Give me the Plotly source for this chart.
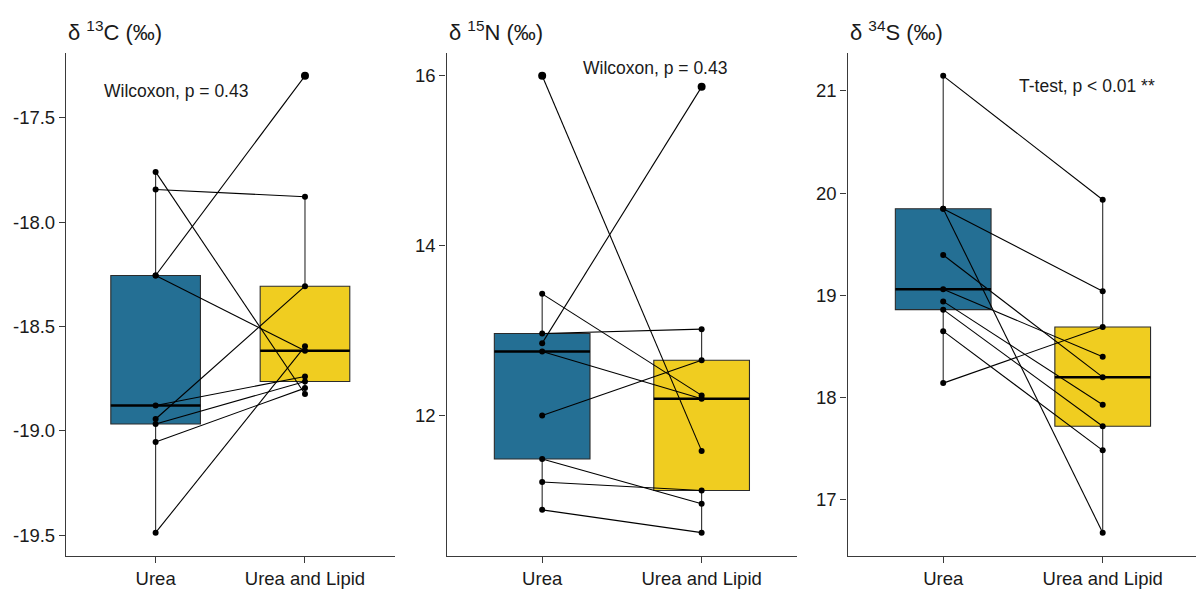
import numpy as np
import plotly.graph_objects as go

groups = ["Urea", "Urea and Lipid"]
colors = ["#246f94", "#f0cd20"]

C_urea = [-17.76, -17.844, -18.256, -18.256, -18.878, -18.943, -18.967, -19.053, -19.487]
C_lipid = [-18.823, -17.879, -17.30, -18.616, -18.739, -18.307, -18.763, -18.795, -18.595]

N_urea = [16.00, 13.43, 12.963, 12.849, 12.750, 11.996, 11.484, 11.212, 10.884]
N_lipid = [11.579, 12.233, 13.014, 15.87, 12.194, 12.647, 10.955, 11.112, 10.615]

S_urea = [21.146, 19.847, 19.847, 19.395, 19.06, 18.941, 18.86, 18.65, 18.142]
S_lipid = [19.935, 19.04, 16.68, 18.20, 18.40, 17.93, 17.72, 17.485, 18.69]

titles = ["δ <sup>13</sup>C (‰)", "δ <sup>15</sup>N (‰)", "δ <sup>34</sup>S (‰)"]
tests = ["Wilcoxon, p = 0.43", "Wilcoxon, p = 0.43", "T-test, p < 0.01 **"]
yticks = [[-19.5, -19.0, -18.5, -18.0, -17.5], [12, 14, 16], [17, 18, 19, 20, 21]]
ydecimals = [1, 0, 0]

panels = [(C_urea, C_lipid), (N_urea, N_lipid), (S_urea, S_lipid)]

W, H = 1196, 592
# layout in pixels
x_dom_px = [(66, 394.6), (446.5, 797.3), (847.5, 1196)]
x_ranges = [[0.4, 2.6], [0.4, 2.6], [0.4, 0.4 + (1196 - 847.5) / 159.5]]
y_top, y_bot = 53, 555.5
label_pos = [(1.136, -17.374), (1.71, 16.09), (1.90, 21.05)]

FONT = "Liberation Sans, Arial, sans-serif"
AX = "#3a3a3a"
TXT = "#1a1a1a"

fig = go.Figure()
layout = dict(
    width=W, height=H, margin=dict(l=0, r=0, t=0, b=0, autoexpand=False),
    plot_bgcolor="white", paper_bgcolor="white", showlegend=False,
    font=dict(family=FONT, color=TXT, size=18),
    annotations=[],
)

for i, (u, l) in enumerate(panels):
    xa = "x" if i == 0 else f"x{i+1}"
    ya = "y" if i == 0 else f"y{i+1}"
    for g, (vals, col) in enumerate(zip((u, l), colors)):
        pos = g + 1
        fig.add_trace(go.Box(
            y=vals, x=[pos] * len(vals), width=0.6, fillcolor=col,
            line=dict(color="#2b2b2b", width=1.1), whiskerwidth=0,
            boxpoints="outliers", quartilemethod="inclusive",
            marker=dict(color="black", size=8, line=dict(width=0)),
            pointpos=0, jitter=0, xaxis=xa, yaxis=ya, hoverinfo="skip"))
        med = float(np.median(vals))
        fig.add_trace(go.Scatter(
            x=[pos - 0.3, pos + 0.3], y=[med, med], mode="lines",
            line=dict(color="black", width=2.6), xaxis=xa, yaxis=ya, hoverinfo="skip"))
    # paired lines
    px, py = [], []
    for a, b in zip(u, l):
        px += [1, 2, None]
        py += [a, b, None]
    fig.add_trace(go.Scatter(
        x=px, y=py, mode="lines+markers",
        line=dict(color="black", width=1.1),
        marker=dict(color="black", size=6),
        xaxis=xa, yaxis=ya, hoverinfo="skip"))

    allv = np.array(u + l)
    span = allv.max() - allv.min()
    yr = [allv.min() - 0.05 * span, allv.max() + 0.05 * span]

    d0, d1 = x_dom_px[i]
    xkey = "xaxis" if i == 0 else f"xaxis{i+1}"
    ykey = "yaxis" if i == 0 else f"yaxis{i+1}"
    layout[xkey] = dict(
        domain=[d0 / W, d1 / W], range=x_ranges[i], anchor=ya, automargin=False,
        tickmode="array", tickvals=[1, 2], ticktext=groups,
        showline=True, linecolor=AX, linewidth=1.3, mirror=False,
        ticks="outside", ticklen=6, tickcolor=AX, tickwidth=1.3,
        showgrid=False, zeroline=False,
        tickfont=dict(size=18.5, family=FONT, color=TXT))
    layout[ykey] = dict(
        domain=[1 - y_bot / H, 1 - y_top / H], range=yr, anchor=xa, automargin=False,
        tickmode="array", tickvals=yticks[i],
        ticktext=[f"{v:.{ydecimals[i]}f}" for v in yticks[i]],
        showline=True, linecolor=AX, linewidth=1.3,
        ticks="outside", ticklen=6, tickcolor=AX, tickwidth=1.3,
        showgrid=False, zeroline=False,
        tickfont=dict(size=18.5, family=FONT, color=TXT))
    layout["annotations"].append(dict(
        text=titles[i], xref="paper", yref="paper",
        x=d0 / W, y=1 - 31 / H, xanchor="left", yanchor="middle",
        showarrow=False, font=dict(size=22, family=FONT, color=TXT)))
    lx, ly = label_pos[i]
    layout["annotations"].append(dict(
        text=tests[i], xref=xa, yref=ya, x=lx, y=ly,
        xanchor="center", yanchor="middle", showarrow=False,
        font=dict(size=17.5, family=FONT, color=TXT)))

fig.update_layout(**layout)
fig.write_html("out.html", config={"displayModeBar": False},
               post_script="document.body.style.margin='0';")
